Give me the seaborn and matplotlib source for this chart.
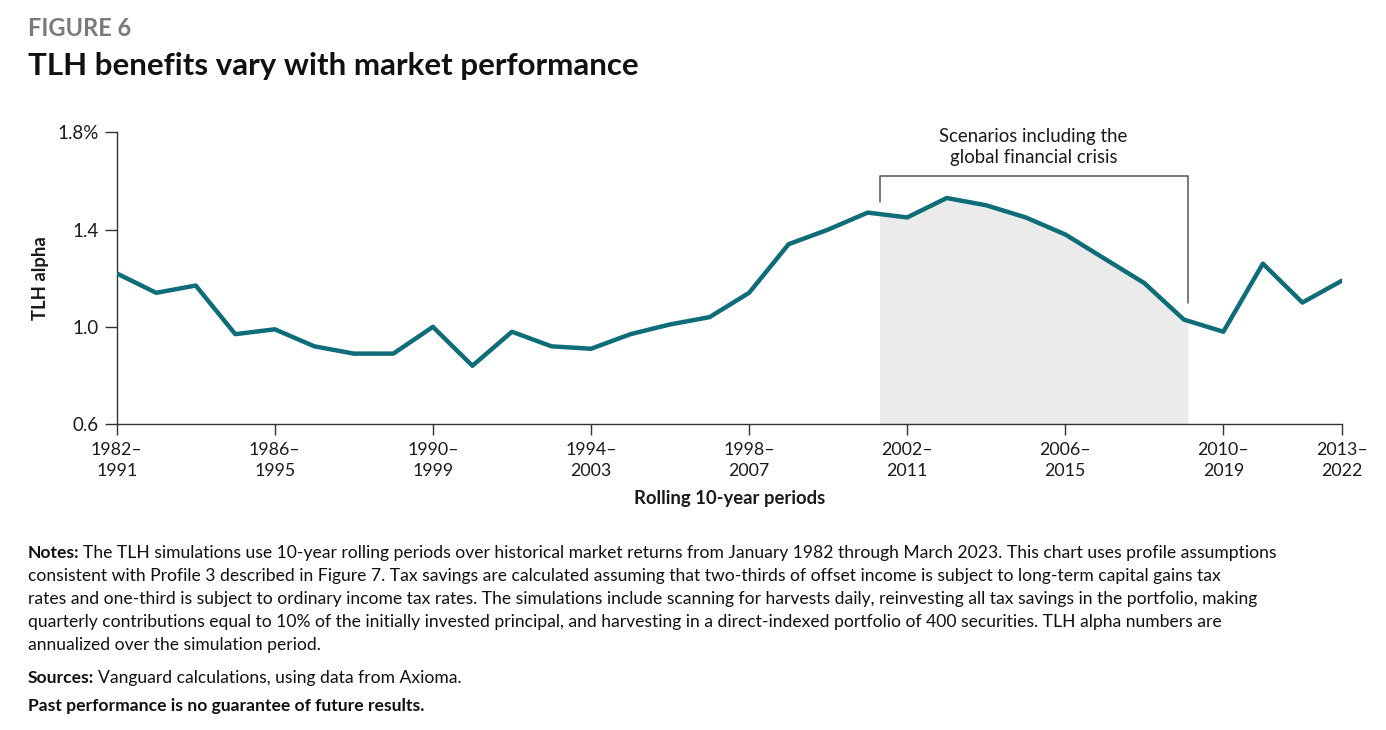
import matplotlib
matplotlib.use("Agg")
import matplotlib.pyplot as plt
import numpy as np
import pandas as pd
import seaborn as sns

# rolling 10-year periods, labelled by their start year
period_start = list(range(1982, 2014))
tlh_alpha = [1.22, 1.14, 1.17, 0.97, 0.99, 0.92, 0.89, 0.89, 1.00, 0.84,
             0.98, 0.92, 0.91, 0.97, 1.01, 1.04, 1.14, 1.34, 1.40, 1.47,
             1.45, 1.53, 1.50, 1.45, 1.38, 1.28, 1.18, 1.03, 0.98, 1.26,
             1.10, 1.19]
tick_years = [1982, 1986, 1990, 1994, 1998, 2002, 2006, 2010, 2013]
y_ticks = [0.6, 1.0, 1.4, 1.8]
y_tick_labels = ["0.6", "1.0", "1.4", "1.8%"]
gfc_span = (2001.3, 2009.1)  # shaded scenarios that include the GFC

notes = [
    "The TLH simulations use 10-year rolling periods over historical market returns from January 1982 through March 2023. This chart uses profile assumptions",
    "consistent with Profile 3 described in Figure 7. Tax savings are calculated assuming that two-thirds of offset income is subject to long-term capital gains tax",
    "rates and one-third is subject to ordinary income tax rates. The simulations include scanning for harvests daily, reinvesting all tax savings in the portfolio, making",
    "quarterly contributions equal to 10% of the initially invested principal, and harvesting in a direct-indexed portfolio of 400 securities. TLH alpha numbers are",
    "annualized over the simulation period.",
]

df = pd.DataFrame({"start": period_start, "alpha": tlh_alpha})

sns.set_style("ticks")
plt.rcParams["font.family"] = ["Lato", "DejaVu Sans"]

teal = "#0e6d79"
dark = "#1a1a1a"
note_fs = 12.6

fig = plt.figure(figsize=(13.86, 7.30), dpi=100)
ax = fig.add_axes([0.0842, 0.419, 0.884, 0.3997])

# grey area under the line for the GFC scenarios
xs = np.array(period_start, dtype=float)
inside = (xs > gfc_span[0]) & (xs < gfc_span[1])
fx = np.concatenate([[gfc_span[0]], xs[inside], [gfc_span[1]]])
fy = np.interp(fx, xs, tlh_alpha)
ax.fill_between(fx, 0.6, fy, color="#ebebeb", lw=0, zorder=1)

sns.lineplot(data=df, x="start", y="alpha", ax=ax, color=teal, lw=3.2,
             zorder=3)

# bracket over the GFC scenarios
br_top = 1.62
ax.plot([gfc_span[0], gfc_span[0], gfc_span[1], gfc_span[1]],
        [1.514, br_top, br_top, 1.10], color="#555555", lw=1.1, zorder=2)
ax.text(sum(gfc_span) / 2, 1.66, "Scenarios including the\nglobal financial crisis",
        ha="center", va="bottom", fontsize=13.4, color=dark, linespacing=1.3)

ax.set_xlim(1982, 2013)
ax.set_ylim(0.6, 1.8)
ax.set_xticks(tick_years)
ax.set_xticklabels([f"{y}\u2013\n{y + 9}" for y in tick_years], fontsize=12.8,
                   color=dark, linespacing=1.35)
ax.set_yticks(y_ticks)
ax.set_yticklabels(y_tick_labels, fontsize=13.5, color=dark)
ax.tick_params(axis="y", length=9, width=1, color="#333333", pad=4)
ax.tick_params(axis="x", length=8, width=1, color="#333333", pad=5)
for s in ["top", "right"]:
    ax.spines[s].set_visible(False)
for s in ["left", "bottom"]:
    ax.spines[s].set_color("#333333")
    ax.spines[s].set_linewidth(1)
ax.set_xlabel("Rolling 10-year periods", fontsize=13.3, fontweight="bold",
              color=dark, labelpad=8)
ax.set_ylabel("TLH alpha", fontsize=13.3, fontweight="bold", color=dark,
              labelpad=6)

# headings
fig.text(28 / 1386, 1 - 28 / 730, "FIGURE 6", fontsize=17, fontweight="bold",
         color="#7a7a7a", va="center", ha="left")
fig.text(28 / 1386, 1 - 66 / 730, "TLH benefits vary with market performance",
         fontsize=22.5, fontweight="bold", color="#111111", va="center",
         ha="left")

# notes block, one text per line so spacing matches
def fig_y(px):
    return 1 - px / 730

lead = fig.text(28 / 1386, fig_y(553), "Notes:", fontsize=note_fs,
                fontweight="bold", color="#111111", va="center", ha="left")
ax.annotate(notes[0], xy=(1, 0.5), xytext=(2.5, 0), textcoords="offset points",
            xycoords=lead, va="center", ha="left", fontsize=note_fs,
            color="#111111", annotation_clip=False)
for i, line in enumerate(notes[1:], start=1):
    fig.text(28 / 1386, fig_y(553 + 23 * i), line, fontsize=note_fs,
             color="#111111", va="center", ha="left")

src = fig.text(28 / 1386, fig_y(678), "Sources:", fontsize=note_fs,
               fontweight="bold", color="#111111", va="center", ha="left")
ax.annotate("Vanguard calculations, using data from Axioma.", xy=(1, 0.5),
            xytext=(2.5, 0), textcoords="offset points", xycoords=src,
            va="center", ha="left", fontsize=note_fs, color="#111111",
            annotation_clip=False)
fig.text(28 / 1386, fig_y(706), "Past performance is no guarantee of future results.",
         fontsize=note_fs, fontweight="bold", color="#111111", va="center",
         ha="left")

fig.savefig("out.png", dpi=100, facecolor="white")
